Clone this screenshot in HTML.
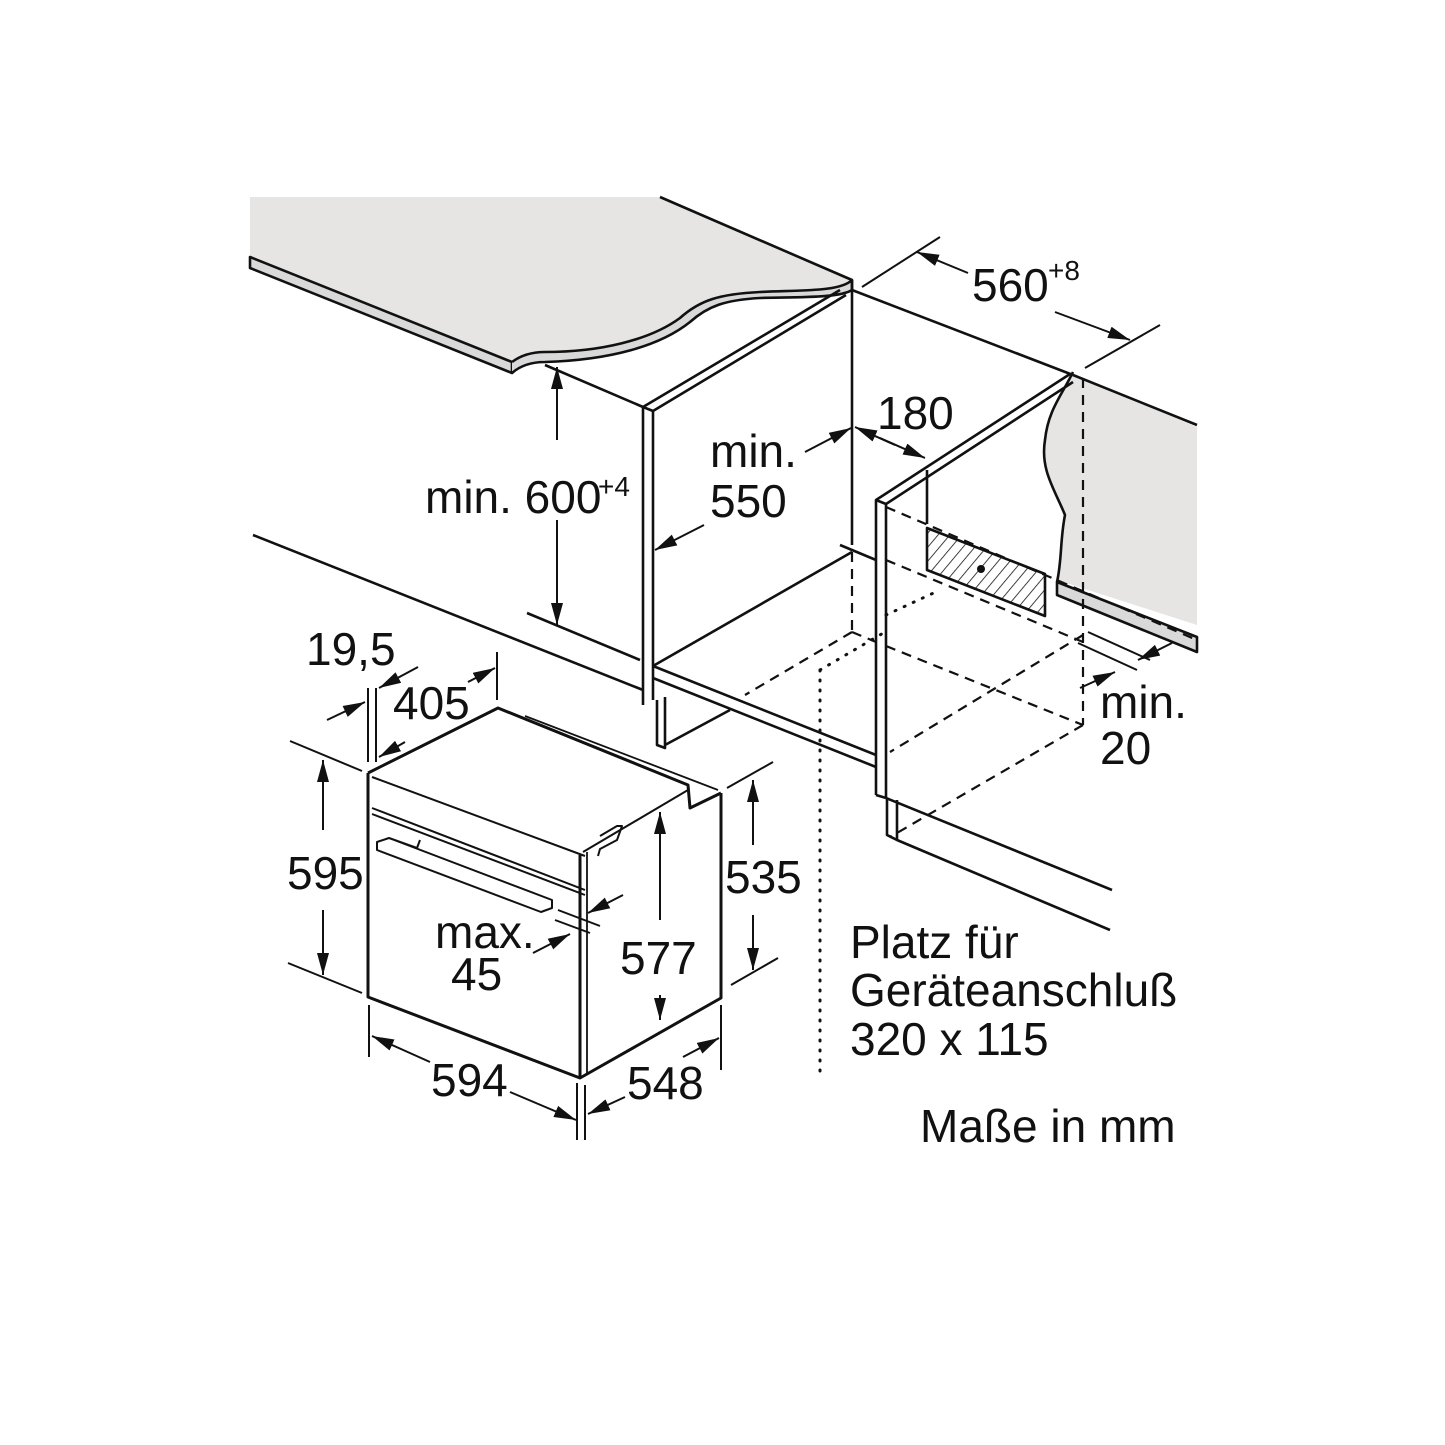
<!DOCTYPE html>
<html><head><meta charset="utf-8"><style>
html,body{margin:0;padding:0;background:#fff}
svg{display:block}
text{font-family:"Liberation Sans",sans-serif;font-size:46px;fill:#111}
.s{font-size:28px}
</style></head><body>
<svg width="1445" height="1445" viewBox="0 0 1445 1445" xmlns="http://www.w3.org/2000/svg">
<defs>
<marker id="b" viewBox="0 0 20 10" refX="20" refY="5" markerWidth="22" markerHeight="12" markerUnits="userSpaceOnUse" orient="auto" preserveAspectRatio="none"><path d="M0,0 L20,5 L0,10 Z" fill="#111"/></marker>
<pattern id="h" width="9" height="9" patternUnits="userSpaceOnUse" patternTransform="rotate(40)"><line x1="0" y1="0" x2="0" y2="9" stroke="#111" stroke-width="1.6"/></pattern>
</defs>
<g fill="none" stroke="#111" stroke-width="2.6" stroke-linejoin="round">
<path d="M250,197 L660,197 L852,280 C840,292 800,290 760,292 C720,294 700,300 680,318 C650,340 600,352 545,352 C530,352 520,358 512,362 L250,257 Z" fill="#e6e5e4" stroke="none"/>
<line x1="660" y1="197" x2="852" y2="280"/>
<path d="M250,257 L512,362 L512,373 L250,268 Z" fill="#d9d9d9"/>
<path d="M512,362 C520,356 530,352 545,352 C600,352 650,340 680,318 C700,300 720,294 760,292 C800,290 840,292 852,280 L852,290 C840,298 800,297 760,298 C725,300 708,306 690,322 C660,346 610,360 545,362 C530,362 520,366 512,373" fill="#d9d9d9"/>
<path d="M1073,375 L1197,427 L1197,625 L1057,580 C1062,560 1060,540 1065,515 C1055,490 1040,470 1045,440 C1048,410 1062,395 1073,375 Z" fill="#e6e5e4" stroke="none"/>
<path d="M1073,372 C1062,395 1048,410 1045,440 C1040,470 1055,490 1065,515 C1060,540 1062,560 1057,582"/>
<path d="M1057,582 L1057,595 L1197,652 L1197,637 Z" fill="#d9d9d9"/>
<line x1="1073" y1="375" x2="1197" y2="425"/>
<line x1="852" y1="280" x2="852" y2="545"/>
<line x1="852" y1="290" x2="1073" y2="375"/>
<path d="M643,705 L643,407 L840,290 M653,700 L653,411 L846,295"/>
<line x1="643" y1="407" x2="653" y2="411"/>
<line x1="545" y1="365" x2="643" y2="407"/>
<line x1="527" y1="613" x2="640" y2="660"/>
<line x1="253" y1="535" x2="643" y2="690"/>
<line x1="653" y1="666" x2="852" y2="552"/>
<line x1="840" y1="545" x2="876" y2="560"/>
<path d="M653,666 L876,755 M653,678 L876,767"/>
<path d="M657,700 L657,745 L665,748 L665,697 M665,745 L730,710"/>
<path d="M876,795 L876,500 L1070,374 M886,798 L886,504 L1073,382"/>
<line x1="876" y1="500" x2="886" y2="504"/>
<path d="M887,798 L887,835 L897,840 L897,800 M897,840 L1110,930 M886,798 L1112,890"/>
<line x1="876" y1="795" x2="886" y2="798"/>
<path d="M927,528 L927,570 L1045,616 L1045,574 Z" fill="url(#h)"/>
<circle cx="981" cy="569" r="4" fill="#111" stroke="none"/>
<line x1="927" y1="470" x2="927" y2="524"/>
</g>
<g fill="none" stroke="#111" stroke-width="2.2" stroke-dasharray="10,7">
<line x1="852" y1="552" x2="852" y2="632"/>
<line x1="852" y1="632" x2="745" y2="695"/>
<line x1="852" y1="632" x2="876" y2="642"/>
<line x1="886" y1="646" x2="1083" y2="725"/>
<line x1="1083" y1="378" x2="1083" y2="725"/>
<line x1="1083" y1="725" x2="890" y2="837"/>
<line x1="1083" y1="635" x2="890" y2="752"/>
<line x1="886" y1="507" x2="1197" y2="640"/>
<line x1="886" y1="560" x2="1083" y2="642"/>
</g>
<g fill="none" stroke="#111" stroke-width="3" stroke-dasharray="1,9" stroke-linecap="round">
<line x1="820" y1="670" x2="820" y2="1072"/>
<line x1="820" y1="670" x2="885" y2="632"/>
<line x1="886" y1="615" x2="940" y2="590"/>
</g>
<g fill="none" stroke="#111" stroke-width="3" stroke-linejoin="round">
<path d="M368,773 L368,997 L580,1078 L721,998 L721,793"/>
<path d="M368,773 L498,708 L688,785 L690,808 L721,793"/>
<line x1="580" y1="855" x2="580" y2="1078"/>
<line x1="587" y1="852" x2="587" y2="1073" stroke-width="1.8"/>
<line x1="583" y1="852" x2="688" y2="790" stroke-width="2"/>
<path d="M372,777 L585,856 M372,808 L585,890 M372,814 L585,895" stroke-width="2"/>
<path d="M525,716 L718,790" stroke-width="1.8"/>
<path d="M377,842 L377,850 L541,912 L552,908 L552,900 L389,838 Z M389,838 L417,848 L420,840" stroke-width="2"/>
<path d="M598,856 L600,849 L617,840 L622,826 L617,826 L600,836" stroke-width="2"/>
</g>
<g fill="none" stroke="#111" stroke-width="2">
<line x1="862" y1="287" x2="940" y2="237"/>
<line x1="1085" y1="368" x2="1160" y2="325"/>
<line x1="968" y1="273" x2="917" y2="252" marker-end="url(#b)"/>
<line x1="1055" y1="312" x2="1130" y2="340" marker-end="url(#b)"/>
<line x1="557" y1="440" x2="557" y2="367" marker-end="url(#b)"/>
<line x1="557" y1="520" x2="557" y2="625" marker-end="url(#b)"/>
<line x1="805" y1="452" x2="851" y2="428" marker-end="url(#b)"/>
<line x1="704" y1="525" x2="655" y2="550" marker-end="url(#b)"/>
<line x1="895" y1="445" x2="855" y2="427" marker-end="url(#b)"/>
<line x1="880" y1="438" x2="925" y2="458" marker-end="url(#b)"/>
<line x1="1088" y1="632" x2="1150" y2="660"/>
<line x1="1078" y1="643" x2="1137" y2="670"/>
<line x1="1172" y1="643" x2="1138" y2="660" marker-end="url(#b)"/>
<line x1="1080" y1="688" x2="1115" y2="672" marker-end="url(#b)"/>
<line x1="290" y1="741" x2="362" y2="771"/>
<line x1="288" y1="963" x2="362" y2="993"/>
<line x1="323" y1="830" x2="323" y2="760" marker-end="url(#b)"/>
<line x1="323" y1="910" x2="323" y2="975" marker-end="url(#b)"/>
<line x1="369" y1="1005" x2="369" y2="1057"/>
<line x1="577" y1="1083" x2="577" y2="1140"/>
<line x1="430" y1="1062" x2="372" y2="1036" marker-end="url(#b)"/>
<line x1="510" y1="1092" x2="576" y2="1120" marker-end="url(#b)"/>
<line x1="585" y1="1085" x2="585" y2="1140"/>
<line x1="721" y1="1005" x2="721" y2="1070"/>
<line x1="625" y1="1097" x2="588" y2="1114" marker-end="url(#b)"/>
<line x1="683" y1="1057" x2="719" y2="1038" marker-end="url(#b)"/>
<line x1="727" y1="788" x2="773" y2="762"/>
<line x1="731" y1="985" x2="778" y2="958"/>
<line x1="753" y1="845" x2="753" y2="780" marker-end="url(#b)"/>
<line x1="753" y1="915" x2="753" y2="970" marker-end="url(#b)"/>
<line x1="660" y1="920" x2="660" y2="812" marker-end="url(#b)"/>
<line x1="660" y1="995" x2="660" y2="1020" marker-end="url(#b)"/>
<line x1="558" y1="910" x2="600" y2="926"/>
<line x1="555" y1="920" x2="590" y2="933"/>
<line x1="623" y1="895" x2="588" y2="913" marker-end="url(#b)"/>
<line x1="533" y1="953" x2="570" y2="934" marker-end="url(#b)"/>
<line x1="368" y1="688" x2="368" y2="762"/>
<line x1="376" y1="688" x2="376" y2="762"/>
<line x1="497" y1="652" x2="497" y2="700"/>
<line x1="327" y1="720" x2="365" y2="702" marker-end="url(#b)"/>
<line x1="418" y1="667" x2="379" y2="688" marker-end="url(#b)"/>
<line x1="405" y1="742" x2="379" y2="757" marker-end="url(#b)"/>
<line x1="468" y1="682" x2="495" y2="668" marker-end="url(#b)"/>
</g>
<text x="972" y="301">560</text><text x="1048" y="280" class="s">+8</text>
<text x="425" y="513">min. 600</text><text x="598" y="496" class="s">+4</text>
<text x="710" y="467">min.</text><text x="710" y="517">550</text>
<text x="877" y="429">180</text>
<text x="1100" y="718">min.</text><text x="1100" y="764">20</text>
<text x="306" y="665">19,5</text>
<text x="393" y="719">405</text>
<text x="287" y="889">595</text>
<text x="725" y="893">535</text>
<text x="620" y="974">577</text>
<text x="435" y="948">max.</text><text x="451" y="990">45</text>
<text x="431" y="1096">594</text>
<text x="627" y="1099">548</text>
<text x="850" y="958">Platz für</text>
<text x="850" y="1006">Geräteanschluß</text>
<text x="850" y="1055">320 x 115</text>
<text x="920" y="1142">Maße in mm</text>
</svg>
</body></html>
